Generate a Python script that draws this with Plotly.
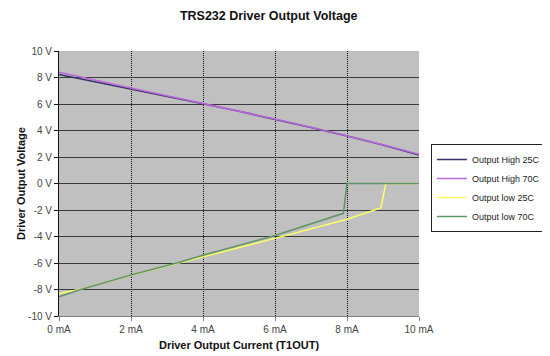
import plotly.graph_objects as go

# ---- data ----
current_high = [0, 1, 2, 3, 4, 5, 6, 7, 8, 9, 10]
high_25c = [8.22, 7.68, 7.15, 6.58, 6.02, 5.45, 4.85, 4.22, 3.58, 2.90, 2.15]
high_70c = [8.40, 7.78, 7.20, 6.62, 6.05, 5.47, 4.87, 4.25, 3.60, 2.92, 2.20]

current_low25 = [0, 0.6, 2, 3.3, 4, 6, 8, 8.94, 9.08, 10]
low_25c = [-8.30, -7.98, -6.92, -6.02, -5.50, -4.14, -2.70, -1.85, 0, 0]

current_low70 = [0, 0.6, 2, 3.3, 4, 6, 7.9, 8.0, 10]
low_70c = [-8.55, -8.00, -6.90, -5.98, -5.42, -3.92, -2.25, 0, 0]

series_names = ["Output High 25C", "Output High 70C", "Output low 25C", "Output low 70C"]
series_colors = ["#333366", "#BB66DD", "#FFFF66", "#5E9466"]

x_tickvals = [0, 2, 4, 6, 8, 10]
x_ticktext = ["0 mA", "2 mA", "4 mA", "6 mA", "8 mA", "10 mA"]
y_tickvals = [10, 8, 6, 4, 2, 0, -2, -4, -6, -8, -10]
y_ticktext = ["10 V", "8 V", "6 V", "4 V", "2 V", "0 V", "-2 V", "-4 V", "-6 V", "-8 V", "-10 V"]
# interior gridlines (no gridline on the plot edges, as in the reference)
x_grid = [2, 4, 6, 8]
y_grid = [8, 6, 4, 2, 0, -2, -4, -6, -8]

FONT = "Liberation Sans, Arial, sans-serif"

fig = go.Figure()

# helper trace that binds the grid-only overlay axes
fig.add_trace(go.Scatter(x=[current_high[0]], y=[high_25c[0]], xaxis="x2", yaxis="y2",
                         mode="lines", showlegend=False, hoverinfo="skip",
                         line=dict(color="rgba(0,0,0,0)")))

xs = [current_high, current_high, current_low25, current_low70]
ys = [high_25c, high_70c, low_25c, low_70c]
for x, y, name, color in zip(xs, ys, series_names, series_colors):
    fig.add_trace(go.Scatter(x=x, y=y, mode="lines", name=name,
                             line=dict(color=color, width=1.5)))

# the page body adds an 8px offset; margins are chosen to compensate
fig.update_layout(
    width=550, height=348,
    margin=dict(l=51, r=131, t=43, b=40),
    paper_bgcolor="white",
    plot_bgcolor="#C0C0C0",
    font=dict(family=FONT, size=10, color="#444444"),
    title=dict(text="<b>TRS232 Driver Output Voltage</b>", x=0.474, xanchor="center",
               y=0.977, yanchor="middle", font=dict(size=12.5, color="#111111")),
    showlegend=True,
    legend=dict(x=1.033, y=0.649, xanchor="left", yanchor="top",
                bgcolor="white", bordercolor="#222222", borderwidth=1,
                font=dict(size=9, color="#222222"), tracegroupgap=0),
    xaxis=dict(range=[0, 10], tickvals=x_tickvals, ticktext=x_ticktext,
               showgrid=False, automargin=False,
               showline=True, linecolor="#808080", linewidth=1,
               ticks="outside", ticklen=4, tickcolor="#808080",
               zeroline=False,
               title=dict(text="<b>Driver Output Current (T1OUT)</b>",
                          font=dict(size=11, color="#111111"), standoff=7)),
    yaxis=dict(range=[-10, 10], tickvals=y_tickvals, ticktext=y_ticktext,
               showgrid=False, automargin=False,
               showline=True, linecolor="#111111", linewidth=1,
               ticks="outside", ticklen=4, tickcolor="#111111",
               zeroline=False,
               title=dict(text="<b>Driver Output Voltage</b>",
                          font=dict(size=11, color="#111111"), standoff=0)),
    xaxis2=dict(range=[0, 10], overlaying="x", anchor="y", side="bottom",
                tickvals=x_grid, showticklabels=False, ticks="",
                showgrid=True, gridcolor="#111111", griddash="1px,1px", gridwidth=1,
                showline=False, zeroline=False, automargin=False),
    yaxis2=dict(range=[-10, 10], overlaying="y", anchor="x", side="left",
                tickvals=y_grid, showticklabels=False, ticks="",
                showgrid=True, gridcolor="#3a3a3a", gridwidth=1,
                showline=False, zeroline=False, automargin=False),
)

fig.write_html("out.html")
